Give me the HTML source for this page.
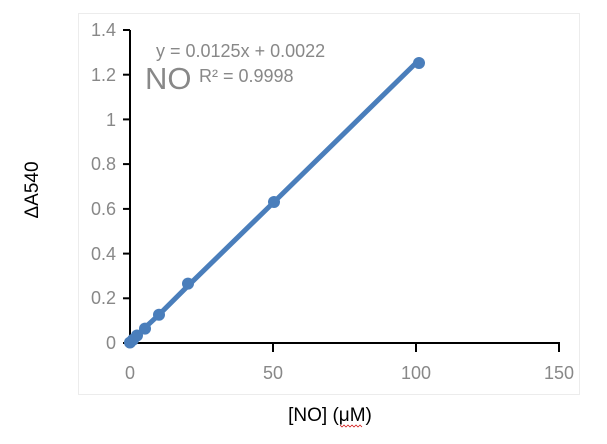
<!DOCTYPE html><html><head><style>body{margin:0;background:#fff}</style></head><body>
<svg width="607" height="439" xmlns="http://www.w3.org/2000/svg" font-family="Liberation Sans, sans-serif">
<rect x="78.5" y="13.5" width="501" height="381" fill="#fff" stroke="#ececec"/>
<g stroke="#000" stroke-width="2" fill="none">
<line x1="130" y1="30" x2="130" y2="344"/>
<line x1="129" y1="343" x2="560" y2="343"/>
<line x1="123" y1="30" x2="130" y2="30"/><line x1="123" y1="74.7" x2="130" y2="74.7"/><line x1="123" y1="119.4" x2="130" y2="119.4"/><line x1="123" y1="164.1" x2="130" y2="164.1"/><line x1="123" y1="208.9" x2="130" y2="208.9"/><line x1="123" y1="253.6" x2="130" y2="253.6"/><line x1="123" y1="298.3" x2="130" y2="298.3"/><line x1="123" y1="343" x2="130" y2="343"/>
<line x1="273" y1="343" x2="273" y2="352"/><line x1="416" y1="343" x2="416" y2="352"/><line x1="559" y1="343" x2="559" y2="352"/>
</g>
<g fill="#888" font-size="18" text-anchor="end">
<text x="116" y="36">1.4</text><text x="116" y="81">1.2</text><text x="116" y="126">1</text><text x="116" y="170">0.8</text><text x="116" y="215">0.6</text><text x="116" y="260">0.4</text><text x="116" y="304">0.2</text><text x="116" y="349">0</text>
</g>
<g fill="#888" font-size="18" text-anchor="middle">
<text x="130" y="379">0</text><text x="273" y="379">50</text><text x="416" y="379">100</text><text x="559" y="379">150</text>
</g>
<polyline points="130,342.5 133,339.7 137,335.5 144,328.6 159,314.7 187,286.8 273,203 416,63" fill="none" stroke="#4a7ebb" stroke-width="5"/>
<g fill="#4a7ebb">
<circle cx="130" cy="342.5" r="6"/><circle cx="133" cy="339.7" r="6"/><circle cx="137" cy="335.5" r="6"/><circle cx="145" cy="328.6" r="6"/><circle cx="159" cy="314.7" r="6"/><circle cx="188" cy="283.6" r="6"/><circle cx="274" cy="202" r="6"/><circle cx="419" cy="63" r="6"/>
</g>
<text x="156" y="57" fill="#888" font-size="18">y = 0.0125x + 0.0022</text>
<text x="145" y="89" fill="#888" font-size="31">NO</text>
<text x="199" y="82" fill="#888" font-size="18">R² = 0.9998</text>
<text x="330" y="421" font-size="19" text-anchor="middle" fill="#000">[NO] (μM)</text>
<path d="M340 425 l2 2 2-2 2 2 2-2 2 2 2-2 2 2 2-2 2 2 2-2 2 2" stroke="#c00" stroke-width="0.7" fill="none"/>
<text transform="translate(38 190) rotate(-90)" font-size="19" text-anchor="middle" fill="#000">ΔA540</text>
</svg></body></html>
